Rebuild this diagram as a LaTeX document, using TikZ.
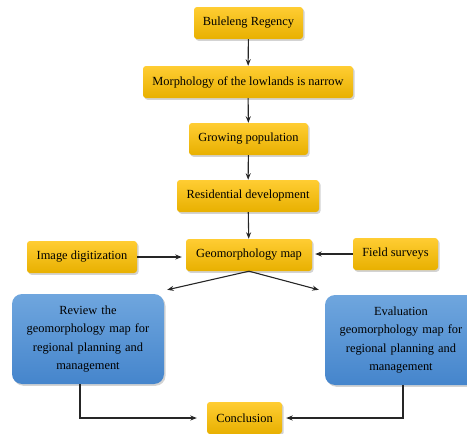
\documentclass[tikz,border=0pt]{standalone}
\usepackage{fontspec}
\setmainfont{Liberation Serif}
\usetikzlibrary{arrows.meta,shadows}
\begin{document}
\begin{tikzpicture}[x=1pt,y=-1pt,
  font=\fontsize{12.4}{18.3}\selectfont,
  obox/.style={rounded corners=3pt, minimum height=32pt, inner xsep=8pt,
    top color=orangeTop, bottom color=orangeBot, draw=none,
    drop shadow={opacity=0.35, shadow xshift=1.5pt, shadow yshift=-1.8pt}},
  bbox/.style={rounded corners=10pt, minimum height=90pt, minimum width=152pt,
    text width=140pt, align=center,
    top color=blueTop, bottom color=blueBot, draw=none,
    drop shadow={opacity=0.35, shadow xshift=1.5pt, shadow yshift=-1.8pt}},
  arr/.style={line width=1.1pt, draw=black!85, -{Stealth[length=6.5pt,width=5pt]}}]
\definecolor{orangeTop}{HTML}{FFCD33}
\definecolor{orangeBot}{HTML}{E8B000}
\definecolor{blueTop}{HTML}{6FA6DE}
\definecolor{blueBot}{HTML}{4585CC}
\useasboundingbox (0,0) rectangle (467,434);
\clip (0,0) rectangle (467,434);
\node[obox, minimum width=109pt] (bul) at (248.5,23) {Buleleng Regency};
\node[obox, minimum width=210pt] (mor) at (248,82) {Morphology of the lowlands is narrow};
\node[obox, minimum width=119pt] (pop) at (248.5,139) {Growing population};
\node[obox, minimum width=142pt] (res) at (248,196) {Residential development};
\node[obox, minimum width=126pt] (geo) at (249,255) {Geomorphology map};
\node[obox, minimum width=110pt] (img) at (82,257) {Image digitization};
\node[obox, minimum width=85pt] (fld) at (395.5,254) {Field surveys};
\node[bbox] (rev) at (88,339) {Review the\\geomorphology map for\\regional planning and\\management};
\node[bbox] (eva) at (401,340) {Evaluation\\geomorphology map for\\regional planning and\\management};
\node[obox, minimum width=75pt] (con) at (244.5,418) {Conclusion};
\draw[arr] (bul) -- (mor);
\draw[arr] (mor) -- (pop);
\draw[arr] (pop) -- (res);
\draw[arr] (res) -- (geo);
\draw[arr, shorten >=4pt] (img) -- (img -| geo.west);
\draw[arr, shorten >=3pt] (fld) -- (fld -| geo.east);
\draw[arr] (geo.south) -- ([xshift=3pt,yshift=4pt]rev.north east);
\draw[arr] (geo.south) -- ([xshift=-6pt,yshift=5pt]eva.north west);
\draw[arr, shorten >=10pt] ([xshift=-8pt]rev.south) |- (con.west);
\draw[arr, shorten >=4pt] ([xshift=2pt]eva.south) |- (con.east);
\end{tikzpicture}
\end{document}
